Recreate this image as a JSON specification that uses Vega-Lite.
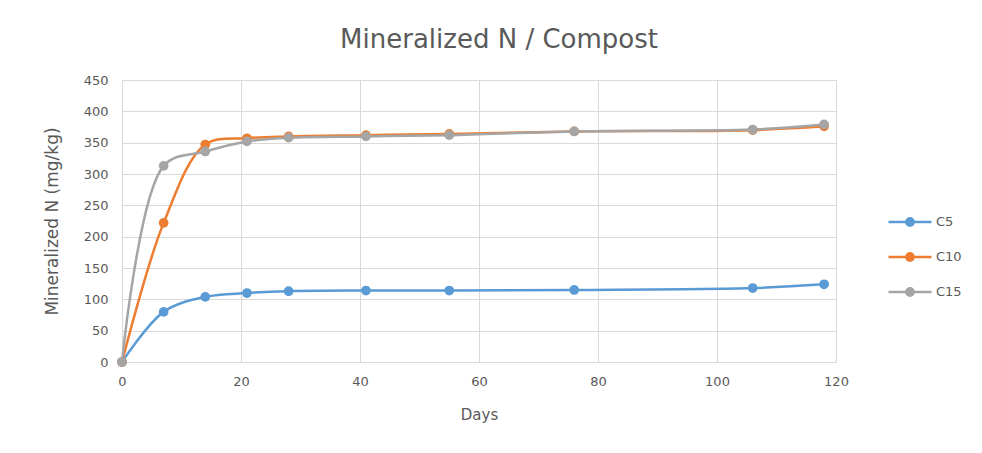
{
  "$schema": "https://vega.github.io/schema/vega-lite/v6.json",
  "autosize": "none",
  "width": 714,
  "height": 282,
  "padding": {"left": 122, "top": 80, "right": 146, "bottom": 91},
  "background": "white",
  "title": {
    "text": "Mineralized N / Compost",
    "fontSize": 26,
    "font": "DejaVu Sans",
    "fontWeight": "normal",
    "color": "#595959",
    "anchor": "middle",
    "dx": 20,
    "offset": 21
  },
  "config": {
    "view": {"stroke": null},
    "axis": {
      "labelFont": "DejaVu Sans",
      "labelFontSize": 13,
      "labelColor": "#595959",
      "titleFont": "DejaVu Sans",
      "titleFontWeight": "normal",
      "titleColor": "#595959",
      "gridColor": "#D9D9D9",
      "ticks": false,
      "labelFlush": false
    },
    "legend": {
      "labelFont": "DejaVu Sans",
      "labelFontSize": 13,
      "labelColor": "#595959"
    }
  },
  "data": {
    "values": [
      {"day": 0, "series": "C5", "n": 0},
      {"day": 7, "series": "C5", "n": 80},
      {"day": 14, "series": "C5", "n": 104},
      {"day": 21, "series": "C5", "n": 110},
      {"day": 28, "series": "C5", "n": 113},
      {"day": 41, "series": "C5", "n": 114},
      {"day": 55, "series": "C5", "n": 114},
      {"day": 76, "series": "C5", "n": 115},
      {"day": 106, "series": "C5", "n": 118},
      {"day": 118, "series": "C5", "n": 124},
      {"day": 0, "series": "C10", "n": 0},
      {"day": 7, "series": "C10", "n": 222},
      {"day": 14, "series": "C10", "n": 347},
      {"day": 21, "series": "C10", "n": 357},
      {"day": 28, "series": "C10", "n": 360},
      {"day": 41, "series": "C10", "n": 362},
      {"day": 55, "series": "C10", "n": 364},
      {"day": 76, "series": "C10", "n": 368},
      {"day": 106, "series": "C10", "n": 370},
      {"day": 118, "series": "C10", "n": 376},
      {"day": 0, "series": "C15", "n": 0},
      {"day": 7, "series": "C15", "n": 313},
      {"day": 14, "series": "C15", "n": 336},
      {"day": 21, "series": "C15", "n": 352},
      {"day": 28, "series": "C15", "n": 358},
      {"day": 41, "series": "C15", "n": 360},
      {"day": 55, "series": "C15", "n": 362},
      {"day": 76, "series": "C15", "n": 368},
      {"day": 106, "series": "C15", "n": 371},
      {"day": 118, "series": "C15", "n": 379}
    ]
  },
  "encoding": {
    "x": {
      "field": "day",
      "type": "quantitative",
      "title": "Days",
      "scale": {"domain": [0, 120], "nice": false},
      "axis": {
        "values": [0, 20, 40, 60, 80, 100, 120],
        "domainColor": "#D9D9D9",
        "labelPadding": 13,
        "titlePadding": 19,
        "titleFontSize": 15
      }
    },
    "y": {
      "field": "n",
      "type": "quantitative",
      "title": "Mineralized N (mg/kg)",
      "scale": {"domain": [0, 450], "nice": false},
      "axis": {
        "values": [0, 50, 100, 150, 200, 250, 300, 350, 400, 450],
        "domain": false,
        "labelPadding": 14,
        "titlePadding": 22,
        "titleFontSize": 17
      }
    },
    "color": {
      "field": "series",
      "type": "nominal",
      "sort": ["C5", "C10", "C15"],
      "scale": {"domain": ["C5", "C10", "C15"], "range": ["#5B9BD5", "#ED7D31", "#A5A5A5"]},
      "legend": {
        "title": null,
        "orient": "none",
        "legendX": 765,
        "legendY": 119,
        "symbolType": "M-1,0H1M0.17,0A0.17,0.17 0 1 1 -0.17,0A0.17,0.17 0 1 1 0.17,0Z",
        "symbolSize": 1850,
        "symbolStrokeWidth": 2.5,
        "rowPadding": 3,
        "labelOffset": 3
      }
    }
  },
  "layer": [
    {"mark": {"type": "line", "interpolate": "catmull-rom", "strokeWidth": 2.5}},
    {"mark": {"type": "point", "filled": true, "size": 95, "opacity": 1}}
  ]
}
